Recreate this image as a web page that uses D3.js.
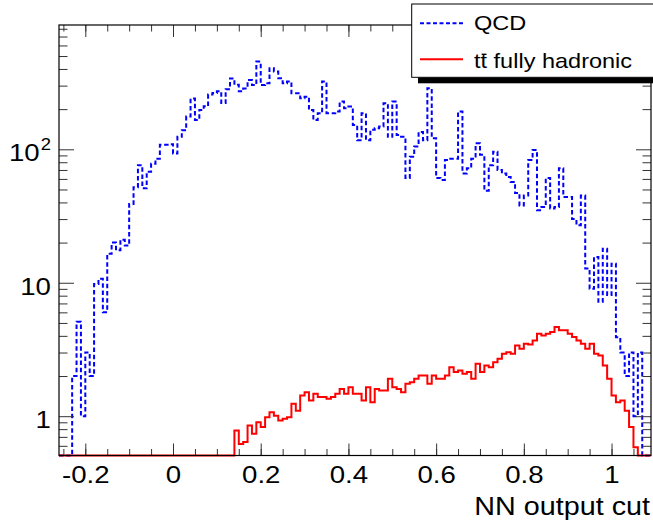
<!DOCTYPE html>
<html>
<head>
<meta charset="utf-8">
<script src="https://cdn.jsdelivr.net/npm/d3@7"></script>
<style>
  html, body { margin: 0; padding: 0; background: #fff; }
  svg { display: block; font-family: "Liberation Sans", Arial, Helvetica, sans-serif; }
</style>
</head>
<body>
<svg id="chart" width="653" height="527"></svg>
<script>
// NN output histograms: 135 bins of width 0.01 starting at -0.26
const binStart = -0.26;
const binWidth = 0.01;

// QCD multijet background, entries per bin
const qcdCounts = [
  0, 0, 0, 2.0, 5.1, 1.0, 3.0, 2.0, 9.8, 10.7,
  6.0, 16.5, 20, 17.5, 21, 19, 39, 52, 76, 51,
  68, 78, 85, 108, 108, 109, 93, 124, 139, 176,
  240, 166, 197, 210, 257, 264, 272, 222, 282, 340,
  305, 272, 285, 330, 303, 454, 303, 313, 405, 383,
  341, 313, 322, 263, 263, 241, 248, 197, 166, 186,
  322, 186, 186, 192, 228, 203, 209, 152, 117, 186,
  117, 140, 144, 148, 221, 124, 228, 128, 124, 61,
  88, 105, 135, 117, 287, 121, 61, 59, 83, 85,
  85, 192, 66, 72, 85, 111, 91, 49, 76, 96,
  70, 66, 62, 57, 47, 38, 45, 83, 99, 35,
  37, 61, 36, 37, 72, 44, 44, 30, 27, 45,
  12.8, 9.0, 15.6, 7.2, 18, 8.1, 13.9, 3.9, 3.0, 2.0,
  3.0, 1.0, 3.0, 0, 0
];

// ttbar fully hadronic signal, entries per bin
const ttbarCounts = [
  0, 0, 0, 0, 0, 0, 0, 0, 0, 0,
  0, 0, 0, 0, 0, 0, 0, 0, 0, 0,
  0, 0, 0, 0, 0, 0, 0, 0, 0, 0,
  0, 0, 0, 0, 0, 0, 0, 0, 0, 0,
  0.78, 0.62, 0.64, 0.85, 0.74, 0.90, 0.83, 0.98, 1.07, 1.01,
  0.93, 0.955, 0.98, 1.24, 1.10, 1.43, 1.51, 1.31, 1.47, 1.39,
  1.39, 1.35, 1.39, 1.47, 1.60, 1.47, 1.65, 1.47, 1.47, 1.31,
  1.65, 1.27, 1.60, 1.56, 1.56, 1.91, 1.65, 1.60, 1.51, 1.75,
  1.80, 1.91, 2.02, 2.02, 1.75, 2.02, 1.91, 1.91, 2.02, 2.33,
  2.14, 2.20, 2.08, 2.14, 1.91, 2.47, 2.14, 2.40, 2.33, 2.54,
  2.69, 2.94, 3.02, 2.94, 3.39, 3.20, 3.49, 3.45, 3.70, 4.15,
  4.03, 4.15, 4.27, 4.66, 4.40, 4.40, 4.15, 3.92, 3.70, 3.49,
  3.20, 3.49, 2.94, 2.85, 2.40, 1.91, 1.43, 1.27, 1.31, 1.10,
  0.83, 0.585, 0, 0, 0
];

const seriesNames = ["QCD", "tt fully hadronic"];
const xTickValues = [-0.2, 0, 0.2, 0.4, 0.6, 0.8, 1];
const xTickLabels = ["-0.2", "0", "0.2", "0.4", "0.6", "0.8", "1"];
const yTickValues = [1, 10, 100];
const yTickLabels = ["1", "10", "10"];   // 100 gets a superscript exponent
const xTitle = "NN output cut";

// frame geometry
const L = 59, R = 651, T = 25, B = 455.5;
const svg = d3.select("#chart");

const x = d3.scaleLinear().domain([-0.26, 1.09]).range([L, R]);
const yMin = 0.5076, yMax = 854;
const y = d3.scaleLog().domain([yMin, yMax]).range([B, T]);

// minor ticks
const xMinor = d3.range(-5, 22).map(i => +(i * 0.05).toFixed(2));
const yMinor = [];
[-1, 0, 1, 2].forEach(e => {
  for (let m = 2; m <= 9; m++) {
    const v = m * Math.pow(10, e);
    if (v >= yMin && v <= yMax) yMinor.push(v);
  }
});

// clip region for the histograms
svg.append("defs").append("clipPath").attr("id", "plotClip")
  .append("rect").attr("x", L).attr("y", T).attr("width", R - L).attr("height", B - T + 1.5);

function stepPoints(counts) {
  const pts = counts.map((c, i) => [binStart + i * binWidth, c]);
  pts.push([binStart + counts.length * binWidth, counts[counts.length - 1]]);
  return pts;
}
const yv = v => (v > yMin ? y(v) : B);
const stepLine = d3.line().x(d => x(d[0])).y(d => yv(d[1])).curve(d3.curveStepAfter);

const plot = svg.append("g").attr("clip-path", "url(#plotClip)");
plot.append("path")
  .attr("d", stepLine(stepPoints(qcdCounts)))
  .attr("fill", "none").attr("stroke", "#0000ff").attr("stroke-width", 2)
  .attr("stroke-dasharray", "4.5,2.7");
plot.append("path")
  .attr("d", stepLine(stepPoints(ttbarCounts)))
  .attr("fill", "none").attr("stroke", "#ff0000").attr("stroke-width", 2);

// axes with inward ticks on all four sides
const tickColor = "#333";
function styleAxis(g) {
  g.select(".domain").remove();
  g.selectAll("line").attr("stroke", tickColor).attr("stroke-width", 1);
}
svg.append("g").attr("transform", `translate(0,${B})`)
  .call(d3.axisBottom(x).tickValues(xMinor).tickSize(-6.5).tickFormat(""))
  .call(styleAxis);
svg.append("g").attr("transform", `translate(0,${T})`)
  .call(d3.axisTop(x).tickValues(xMinor).tickSize(-6.5).tickFormat(""))
  .call(styleAxis);
svg.append("g").attr("transform", `translate(0,${T})`)
  .call(d3.axisTop(x).tickValues(xTickValues).tickSize(-12).tickFormat(""))
  .call(styleAxis);

const gx = svg.append("g").attr("transform", `translate(0,${B})`)
  .call(d3.axisBottom(x).tickValues(xTickValues).tickSize(-12).tickPadding(10)
    .tickFormat((d, i) => xTickLabels[i]))
  .call(styleAxis);
gx.attr("font-size", null).attr("font-family", null);
gx.selectAll("text")
  .attr("fill", "#000").style("font-size", "24px")
  .attr("transform", "scale(1.15,1)");

svg.append("g").attr("transform", `translate(${L},0)`)
  .call(d3.axisLeft(y).tickValues(yMinor).tickSize(-8.5).tickFormat(""))
  .call(styleAxis);
svg.append("g").attr("transform", `translate(${R},0)`)
  .call(d3.axisRight(y).tickValues(yMinor).tickSize(-8.5).tickFormat(""))
  .call(styleAxis);
svg.append("g").attr("transform", `translate(${R},0)`)
  .call(d3.axisRight(y).tickValues(yTickValues).tickSize(-15).tickFormat(""))
  .call(styleAxis);

const gy = svg.append("g").attr("transform", `translate(${L},0)`)
  .call(d3.axisLeft(y).tickValues(yTickValues).tickSize(-15).tickPadding(7)
    .tickFormat((d, i) => yTickLabels[i]))
  .call(styleAxis);
gy.attr("font-size", null).attr("font-family", null);
gy.selectAll("text")
  .attr("fill", "#000").style("font-size", "24px")
  .attr("dy", "0.47em")
  .attr("transform", "scale(1.15,1)")
  .each(function (d) {
    if (d === 100) {
      d3.select(this).append("tspan")
        .attr("dx", "1").attr("dy", "-11.5")
        .style("font-size", "16px").text("2");
    }
  });

// frame
svg.append("rect")
  .attr("x", L).attr("y", T).attr("width", R - L).attr("height", B - T)
  .attr("fill", "none").attr("stroke", "#000").attr("stroke-width", 1.2);

// axis title
svg.append("text")
  .attr("transform", `translate(650,515) scale(1.15,1)`)
  .attr("text-anchor", "end").style("font-size", "25px").attr("fill", "#000")
  .text(xTitle);

// legend with drop shadow
const legend = svg.append("g");
legend.append("rect").attr("x", 418).attr("y", 77.3).attr("width", 245).attr("height", 6).attr("fill", "#000");
legend.append("rect").attr("x", 411.7).attr("y", 4).attr("width", 250).attr("height", 73.3)
  .attr("fill", "#fff").attr("stroke", "#000").attr("stroke-width", 1);
legend.append("line").attr("x1", 420).attr("x2", 463).attr("y1", 23.3).attr("y2", 23.3)
  .attr("stroke", "#0000ff").attr("stroke-width", 2).attr("stroke-dasharray", "4,2.5");
legend.append("line").attr("x1", 420).attr("x2", 463).attr("y1", 59.3).attr("y2", 59.3)
  .attr("stroke", "#ff0000").attr("stroke-width", 2);

legend.append("g").attr("transform", "translate(474,29.8) scale(1.12,1)")
  .append("text").style("font-size", "21px").attr("fill", "#000").text(seriesNames[0]);

const sigLabel = legend.append("g").attr("transform", "translate(474,68.3) scale(1.12,1)");
const sigText = sigLabel.append("text").style("font-size", "21px").attr("fill", "#000").text(seriesNames[1]);
// overbar on the second t (anti-top)
const ext = sigText.node().getExtentOfChar(1);
sigLabel.append("line")
  .attr("x1", ext.x + 1).attr("x2", ext.x + ext.width - 0.5)
  .attr("y1", -14).attr("y2", -14)
  .attr("stroke", "#000").attr("stroke-width", 1.4);
</script>
</body>
</html>
